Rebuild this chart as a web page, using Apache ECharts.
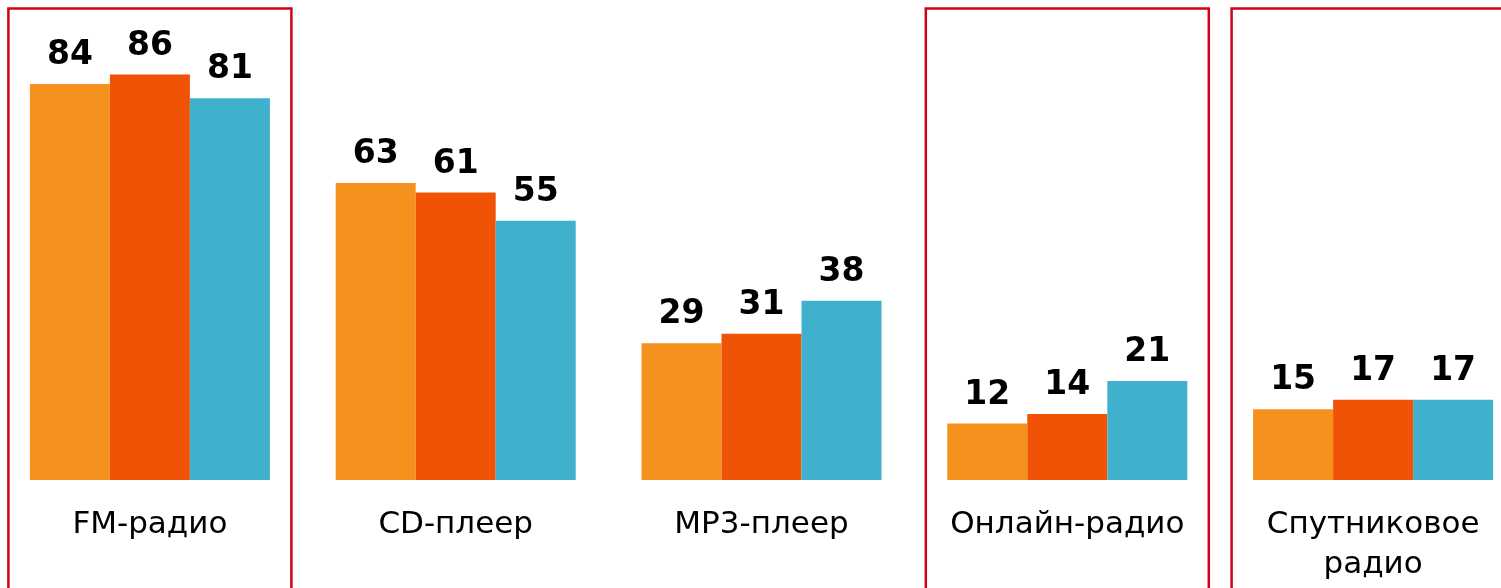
<!DOCTYPE html>
<html>
<head>
<meta charset="utf-8">
<script src="https://cdn.jsdelivr.net/npm/echarts@6/dist/echarts.min.js"></script>
<style>
  html, body { margin: 0; padding: 0; background: #fff; }
  #bars { width: 1501px; height: 588px; }
</style>
</head>
<body>
<div id="bars"></div>
<script>
const categories = ['FM-радио', 'CD-плеер', 'MP3-плеер', 'Онлайн-радио', 'Спутниковое\nрадио']
const serieA = [84, 63, 29, 12, 15]
const serieB = [86, 61, 31, 14, 17]
const serieC = [81, 55, 38, 21, 17]
// categories that get a red frame
const framed = ['FM-радио', 'Онлайн-радио', 'Спутниковое\nрадио']

const colors = ['#F5921E', '#F05206', '#40B1CD']

function makeSeries (name, data, color) {
  return {
    name: name,
    type: 'bar',
    data: data,
    barWidth: 80,
    barGap: '0%',
    itemStyle: { color: color },
    label: {
      show: true,
      position: 'top',
      distance: 12,
      color: '#000',
      fontFamily: 'DejaVu Sans',
      fontWeight: 'bold',
      fontSize: 33
    }
  }
}

const option = {
  animation: false,
  grid: {
    left: -3,
    width: 1529,
    top: 8.6,
    bottom: 108,
    containLabel: false,
    outerBoundsMode: 'none'
  },
  xAxis: [{
    type: 'category',
    data: categories,
    axisLine: { show: false },
    axisTick: { show: false },
    axisLabel: {
      margin: 25,
      color: '#000',
      fontFamily: 'DejaVu Sans',
      fontSize: 31,
      lineHeight: 40,
      interval: 0
    }
  }],
  yAxis: [{
    type: 'value',
    min: 0,
    max: 100,
    show: false,
    splitLine: { show: false }
  }],
  series: [
    makeSeries('a', serieA, colors[0]),
    makeSeries('b', serieB, colors[1]),
    makeSeries('c', serieC, colors[2])
  ]
}

const myChart = echarts.init(document.getElementById('bars'))
myChart.setOption(option)

// red frames around some groups
const frames = framed.map(cat => {
  const cx = myChart.convertToPixel({ xAxisIndex: 0 }, cat)
  return {
    type: 'rect',
    shape: { x: cx - 141.5, y: 8.5, width: 283, height: 620 },
    style: { fill: 'none', stroke: '#D0021B', lineWidth: 2.5 },
    silent: true
  }
})
myChart.setOption({ graphic: frames })
</script>
</body>
</html>
